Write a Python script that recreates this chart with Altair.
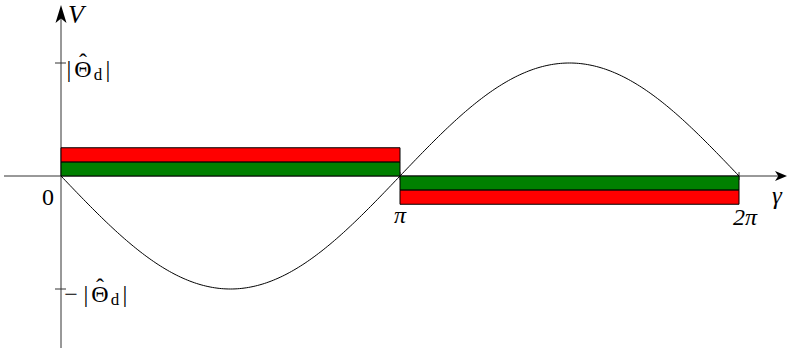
import math
import altair as alt
import pandas as pd

PI = math.pi

# ---- values drawn -------------------------------------------------------
amplitude = 1.0                      # |Θ̂_d|
gamma_ticks = [0.0, PI, 2 * PI]
gamma_labels = ["0", "π", "2π"]
gamma_label_dx = [-13, 0, 6]
gamma_label_dy = [29, 47, 49]

# stacked bands on each half period: green next to the axis, red outside
seg_start = [0.0, PI]
seg_end = [PI, 2 * PI]
green_lo = [0.0, 0.0]
green_hi = [0.125, -0.125]
red_lo = [0.125, -0.125]
red_hi = [0.25, -0.25]

# ---- layout ---------------------------------------------------------------
W, H = 789, 348
X0_PX, PX_PER_PI = 61, 339          # where gamma = 0 sits, pixels per pi
Y0_PX, PX_PER_UNIT = 176, 113       # where V = 0 sits, pixels per unit V


def gx(px):
    return (px - X0_PX) / PX_PER_PI * PI


def vy(px):
    return (Y0_PX - px) / PX_PER_UNIT


xs = alt.Scale(domain=[gx(0), gx(W)], nice=False, zero=False)
ys = alt.Scale(domain=[vy(H), vy(0)], nice=False, zero=False)
FONT = "Liberation Serif"
FS = 24
AX = "#333333"

X = lambda f: alt.X(f, type="quantitative", scale=xs, axis=None)
Y = lambda f: alt.Y(f, type="quantitative", scale=ys, axis=None)

# axes
axes_df = pd.DataFrame({
    "x": [gx(4), 0.0], "x2": [gx(780), 0.0],
    "y": [0.0, vy(H)], "y2": [0.0, vy(14)],
})
axes = alt.Chart(axes_df).mark_rule(color=AX, strokeWidth=1).encode(
    x=X("x"), x2="x2", y=Y("y"), y2="y2"
)

y_arrow = alt.Chart(pd.DataFrame({"x": [0.0], "y": [vy(15)]})).mark_point(
    shape="M0,-1 L0.55,0.8 L0,0.35 L-0.55,0.8 Z",
    filled=True, color="black", opacity=1, size=400,
).encode(x=X("x"), y=Y("y"))

x_arrow = alt.Chart(pd.DataFrame({"x": [gx(781)], "y": [0.0]})).mark_point(
    shape="M0,-1 L0.85,1 L0,0.45 L-0.85,1 Z",
    filled=True, color="black", opacity=1, size=144, angle=90,
).encode(x=X("x"), y=Y("y"))

# tick marks
xt_df = pd.DataFrame({"x": gamma_ticks[1:], "y": [-0.035] * 2, "y2": [0.035] * 2})
x_ticks = alt.Chart(xt_df).mark_rule(color=AX, strokeWidth=1).encode(
    x=X("x"), y=Y("y"), y2="y2"
)
yt_df = pd.DataFrame({"x": [gx(55)] * 2, "x2": [gx(66)] * 2,
                      "y": [amplitude, -amplitude]})
y_ticks = alt.Chart(yt_df).mark_rule(color=AX, strokeWidth=1).encode(
    x=X("x"), x2="x2", y=Y("y")
)

# V(gamma) = -|Θ̂_d| sin(gamma)
step = 2 * PI / 300
curve = alt.Chart(alt.sequence(0, 2 * PI + step / 2, step, as_="g")).transform_calculate(
    V=f"-{amplitude} * sin(datum.g)"
).mark_line(color="black", strokeWidth=1).encode(
    x=X("g"), y=Y("V"), order="g:Q"
)

bands_df = pd.DataFrame({
    "x": seg_start + seg_start,
    "x2": seg_end + seg_end,
    "lo": green_lo + red_lo,
    "hi": green_hi + red_hi,
    "band": ["green", "green", "red", "red"],
})
bands = alt.Chart(bands_df).mark_rect(stroke="black", strokeWidth=1).encode(
    x=X("x"), x2="x2", y=Y("lo"), y2="hi",
    fill=alt.Fill("band:N", scale=alt.Scale(domain=["green", "red"],
                                            range=["#008000", "#ff0000"]),
                  legend=None),
)


def label(text, x, y, dx, dy, size=FS, style="normal", align="center"):
    return alt.Chart(pd.DataFrame({"x": [x], "y": [y], "t": [text]})).mark_text(
        font=FONT, fontSize=size, fontStyle=style, align=align,
        baseline="alphabetic", dx=dx, dy=dy,
    ).encode(x=X("x"), y=Y("y"), text="t:N")


x_labels = [
    label(t, g, 0.0, dx, dy, style="normal" if t == "0" else "italic")
    for t, g, dx, dy in zip(gamma_labels, gamma_ticks, gamma_label_dx, gamma_label_dy)
]


def theta_label(v, dx0, dy, minus):
    parts = []
    if minus:
        parts.append(label("−", 0.0, v, dx0 - 15, dy))
    parts += [
        label("|", 0.0, v, dx0, dy),
        label("Θ", 0.0, v, dx0 + 14, dy),
        label("ˆ", 0.0, v, dx0 + 14, dy - 7),
        label("d", 0.0, v, dx0 + 29, dy + 3, size=17),
        label("|", 0.0, v, dx0 + 39, dy),
    ]
    return parts


texts = [
    label("γ", gx(777), 0.0, 0, 28, size=25, style="italic"),
    label("V", 0.0, vy(23), 15, 0, size=26, style="italic"),
    *theta_label(amplitude, 8, 14, False),
    *theta_label(-amplitude, 25, 13, True),
]

chart = alt.layer(
    axes, x_ticks, y_ticks, curve, bands, y_arrow, x_arrow, *x_labels, *texts
).properties(
    width=W, height=H, padding=0, autosize=alt.AutoSizeParams(type="none")
).configure_view(stroke=None)

chart.save("out.html", embed_options={"renderer": "svg", "actions": False})
